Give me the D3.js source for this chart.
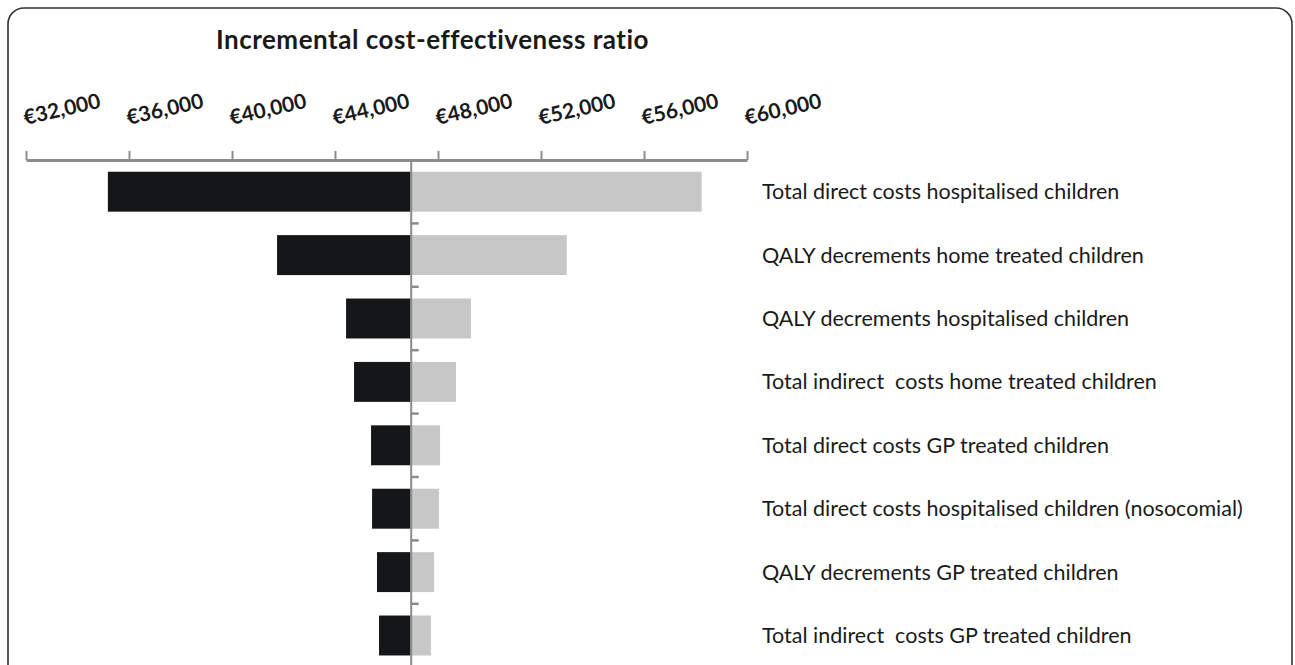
<!DOCTYPE html>
<html><head><meta charset="utf-8">
<script src="https://cdn.jsdelivr.net/npm/d3@7"></script>
<style>body{margin:0;background:#fff}svg{display:block}text{white-space:pre}</style>
</head><body>
<script>
const categories = [
  "Total direct costs hospitalised children",
  "QALY decrements home treated children",
  "QALY decrements hospitalised children",
  "Total indirect  costs home treated children",
  "Total direct costs GP treated children",
  "Total direct costs hospitalised children (nosocomial)",
  "QALY decrements GP treated children",
  "Total indirect  costs GP treated children"
];
const baseICER = 46940;
const lowValues  = [35180, 41750, 44430, 44740, 45400, 45440, 45630, 45710];
const highValues = [58240, 53000, 49280, 48700, 48080, 48040, 47850, 47730];
const tickValues = [32000, 36000, 40000, 44000, 48000, 52000, 56000, 60000];
const title = "Incremental cost-effectiveness ratio";

const W = 1295, H = 665;
const svg = d3.select("body").append("svg").attr("width", W).attr("height", H);

svg.append("rect").attr("x", 8).attr("y", 8).attr("width", 1284).attr("height", 700)
  .attr("rx", 16).attr("fill", "none").attr("stroke", "#333").attr("stroke-width", 1.6);

const x = d3.scaleLinear().domain([32000, 60000]).range([26, 747]);
const y = d3.scaleBand().domain(categories).range([160, 160 + 63.4 * 8])
  .paddingInner(0.37).paddingOuter(0.185);

const axisColor = "#8c8c8c";
const font = "Lato, 'Open Sans', sans-serif";

// title
svg.append("text").attr("x", 432.5).attr("y", 48.5).attr("text-anchor", "middle")
  .attr("font-family", font).attr("font-weight", "bold").attr("font-size", 26)
  .attr("letter-spacing", 0.5)
  .attr("fill", "#1a1a1a").text(title);

// top axis
const xAxis = d3.axisTop(x).tickValues(tickValues).tickSize(9).tickSizeOuter(0)
  .tickFormat(d => "€" + d3.format(",")(d));
const gx = svg.append("g").attr("transform", "translate(0,160)").call(xAxis);
gx.select(".domain").attr("stroke", axisColor).attr("stroke-width", 3);
gx.selectAll(".tick line").attr("stroke", axisColor).attr("stroke-width", 2);
gx.selectAll(".tick text")
  .attr("font-family", font).attr("font-weight", "bold").attr("font-size", 21)
  .attr("fill", "#1a1a1a").attr("text-anchor", "start")
  .attr("x", 0).attr("y", 0).attr("dy", 0)
  .attr("transform", "translate(-1,-35) rotate(-13)");

// bars
const rows = categories.map((c, i) => ({c, lo: lowValues[i], hi: highValues[i]}));
svg.selectAll("rect.low").data(rows).enter().append("rect").attr("class", "low")
  .attr("x", d => x(d.lo)).attr("width", d => x(baseICER) - x(d.lo))
  .attr("y", d => y(d.c)).attr("height", y.bandwidth()).attr("fill", "#151618");
svg.selectAll("rect.high").data(rows).enter().append("rect").attr("class", "high")
  .attr("x", x(baseICER)).attr("width", d => x(d.hi) - x(baseICER))
  .attr("y", d => y(d.c)).attr("height", y.bandwidth()).attr("fill", "#c8c7c8");

// center (category) axis
const yAxis = d3.axisRight(y).tickSize(0).tickFormat("");
const gy = svg.append("g").attr("transform", `translate(${x(baseICER)},0)`).call(yAxis);
gy.select(".domain").attr("stroke", axisColor).attr("stroke-width", 2);
gy.selectAll(".tick").remove();
categories.slice(1).forEach(c => {
  const yy = y(c) - y.step() * y.paddingInner() / 2;
  gy.append("line").attr("x1", 0).attr("x2", 8).attr("y1", yy).attr("y2", yy)
    .attr("stroke", axisColor).attr("stroke-width", 2.5);
});

// category labels
svg.selectAll("text.cat").data(categories).enter().append("text").attr("class", "cat")
  .attr("x", 762).attr("y", d => y(d) + y.bandwidth() / 2).attr("dy", "0.35em")
  .attr("font-family", font).attr("font-size", 21.5).attr("fill", "#1a1a1a")
  .text(d => d);
</script>
</body></html>
